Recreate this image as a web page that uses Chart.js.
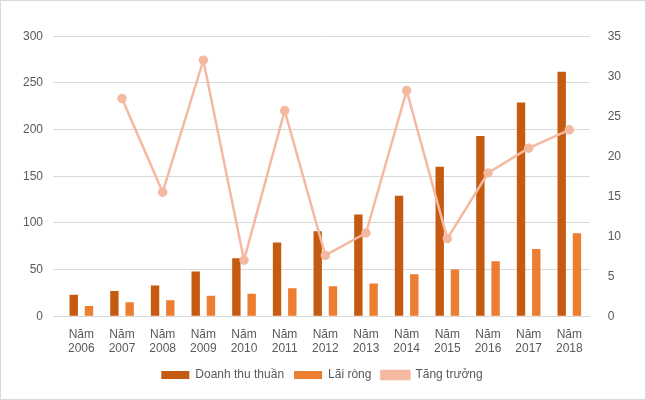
<!DOCTYPE html>
<html>
<head>
<meta charset="utf-8">
<script src="https://cdn.jsdelivr.net/npm/chart.js@4"></script>
<style>
body{margin:0;background:#fff;}
#wrap{width:646px;height:400px;box-sizing:border-box;border:1px solid #d9d9d9;padding:18px 14px 8px 12px;}
</style>
</head>
<body>
<div id="wrap"><canvas id="chart"></canvas></div>
<script>
const years = ["2006","2007","2008","2009","2010","2011","2012","2013","2014","2015","2016","2017","2018"];
const revenue = [23, 27, 33, 48, 62, 79, 91, 109, 129, 160, 193, 229, 262];
const profit = [11, 15, 17, 22, 24, 30, 32, 35, 45, 50, 59, 72, 89];
const growth = [null, 27.2, 15.5, 32, 7.0, 25.7, 7.6, 10.4, 28.2, 9.7, 17.9, 21, 23.3];

const labels = years.map(y => ["Năm", y]);
const font = {family: "Liberation Sans, Arial", size: 12};

new Chart(document.getElementById("chart"), {
    type: "bar",
    data: {
        labels: labels,
        datasets: [
            {label: "Doanh thu thuần", data: revenue, backgroundColor: "#C55A11", yAxisID: "y", order: 2, barPercentage: 0.55, categoryPercentage: 0.75},
            {label: "Lãi ròng", data: profit, backgroundColor: "#ED7D31", yAxisID: "y", order: 2, barPercentage: 0.55, categoryPercentage: 0.75},
            {label: "Tăng trưởng", type: "line", data: growth, borderColor: "#F4B9A0", backgroundColor: "#F4B9A0", borderWidth: 2.5, pointRadius: 3.5, pointBackgroundColor: "#F4B9A0", yAxisID: "y1", order: 1, tension: 0}
        ]
    },
    options: {
        responsive: true,
        maintainAspectRatio: false,
        animation: false,
        plugins: {
            legend: {
                position: "bottom",
                labels: {font: font, color: "#595959", boxWidth: 28, boxHeight: 8, sort: (a, b) => a.datasetIndex - b.datasetIndex}
            }
        },
        scales: {
            x: {grid: {display: false}, border: {color: "#d9d9d9"}, ticks: {font: font, color: "#595959", maxRotation: 0}},
            y: {min: 0, max: 300, ticks: {stepSize: 50, font: font, color: "#595959", padding: 10}, grid: {color: "#d9d9d9"}, border: {display: false}},
            y1: {position: "right", min: 0, max: 35, ticks: {stepSize: 5, font: font, color: "#595959", padding: 10}, grid: {display: false}, border: {display: false}}
        }
    }
});
</script>
</body>
</html>
